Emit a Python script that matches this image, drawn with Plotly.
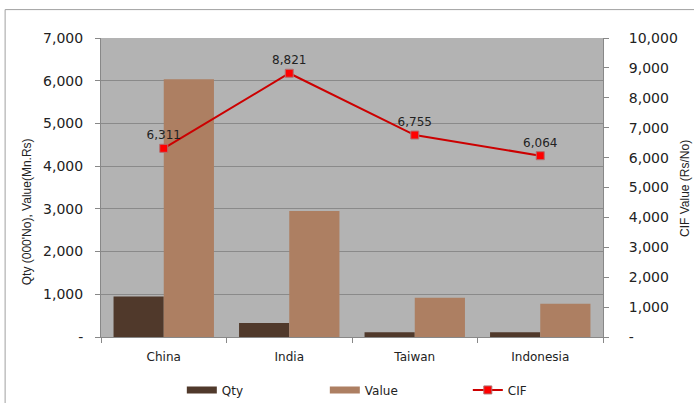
import plotly.graph_objects as go

countries = ["China", "India", "Taiwan", "Indonesia"]
qty = [950, 330, 110, 110]
value = [6035, 2950, 920, 780]
cif = [6311, 8821, 6755, 6064]

left_ticks = [0, 1000, 2000, 3000, 4000, 5000, 6000, 7000]
left_text = ["-", "1,000", "2,000", "3,000", "4,000", "5,000", "6,000", "7,000"]
right_ticks = [0, 1000, 2000, 3000, 4000, 5000, 6000, 7000, 8000, 9000, 10000]
right_text = ["-", "1,000", "2,000", "3,000", "4,000", "5,000", "6,000", "7,000", "8,000", "9,000", "10,000"]

QTY_C = "#50392B"
VAL_C = "#AD7F62"
font = dict(family="DejaVu Sans, sans-serif", size=12, color="#222222")
title_font = dict(family="Liberation Sans, Arial, sans-serif", size=12, color="#222222")

fig = go.Figure()
fig.add_trace(go.Bar(x=countries, y=qty, name="Qty", showlegend=False,
                     marker=dict(color=QTY_C, line=dict(width=0))))
fig.add_trace(go.Bar(x=countries, y=value, name="Value", showlegend=False,
                     marker=dict(color=VAL_C, line=dict(width=0))))
fig.add_trace(go.Scatter(
    x=countries, y=cif, name="CIF", yaxis="y2", mode="lines+markers+text", showlegend=False,
    line=dict(color="#CC0000", width=2),
    marker=dict(symbol="square", size=8, color="#FF0000", line=dict(color="#B07070", width=1)),
    text=[f"{v:,}" for v in cif], textposition="top center",
    textfont=dict(family=font["family"], size=12, color="#222222"),
))

# legend entries (wide swatches like the original)
fig.add_trace(go.Scatter(x=[None], y=[None], name="Qty", mode="lines",
                         line=dict(color=QTY_C, width=7)))
fig.add_trace(go.Scatter(x=[None], y=[None], name="Value", mode="lines",
                         line=dict(color=VAL_C, width=7)))
fig.add_trace(go.Scatter(x=[None], y=[None], name="CIF", mode="lines+markers",
                         line=dict(color="#CC0000", width=2),
                         marker=dict(symbol="square", size=8, color="#FF0000",
                                     line=dict(color="#B07070", width=1))))

fig.update_layout(
    width=694, height=403,
    margin=dict(l=101, r=91, t=38, b=66, autoexpand=False),
    paper_bgcolor="white", plot_bgcolor="#B3B3B3",
    font=font,
    barmode="group", bargap=0.2, bargroupgap=0,
    legend=dict(orientation="h", x=0.161, xanchor="left", y=-0.177, yanchor="middle",
                font=dict(size=12), itemwidth=30, entrywidth=98, entrywidthmode="pixels",
                bgcolor="rgba(0,0,0,0)"),
    xaxis=dict(showgrid=False, ticks="outside", tickson="boundaries", ticklen=5,
               tickcolor="#888888", showline=True, linecolor="#888888",
               tickfont=dict(size=12), ticklabelstandoff=9),
    yaxis=dict(range=[0, 7000], tickvals=left_ticks, ticktext=left_text,
               gridcolor="#8A8A8A", gridwidth=1, ticks="outside", ticklen=5,
               tickcolor="#888888", showline=True, linecolor="#888888",
               zeroline=False, tickfont=dict(size=14), ticklabelstandoff=9),
    yaxis2=dict(range=[0, 10000], tickvals=right_ticks, ticktext=right_text,
                overlaying="y", side="right", showgrid=False, ticks="outside", ticklen=5,
                tickcolor="#888888", showline=True, linecolor="#888888",
                zeroline=False, tickfont=dict(size=14), ticklabelstandoff=17),
    annotations=[
        dict(text="Qty (000'No), Value(Mn.Rs)", xref="paper", yref="paper",
             x=-0.147, y=0.418, xanchor="center", yanchor="middle",
             textangle=-90, showarrow=False, font=title_font),
        dict(text="CIF Value (Rs/No)", xref="paper", yref="paper",
             x=1.163, y=0.498, xanchor="center", yanchor="middle",
             textangle=-90, showarrow=False, font=title_font),
    ],
    shapes=[dict(type="rect", xref="paper", yref="paper",
                 x0=-0.191, x1=1.2, y0=-0.25, y1=1.095,
                 line=dict(color="#A0A0A0", width=1), fillcolor="rgba(0,0,0,0)", layer="below")],
)

fig.write_html("out.html", config={"displayModeBar": False},
               post_script="document.body.style.margin='0';")
